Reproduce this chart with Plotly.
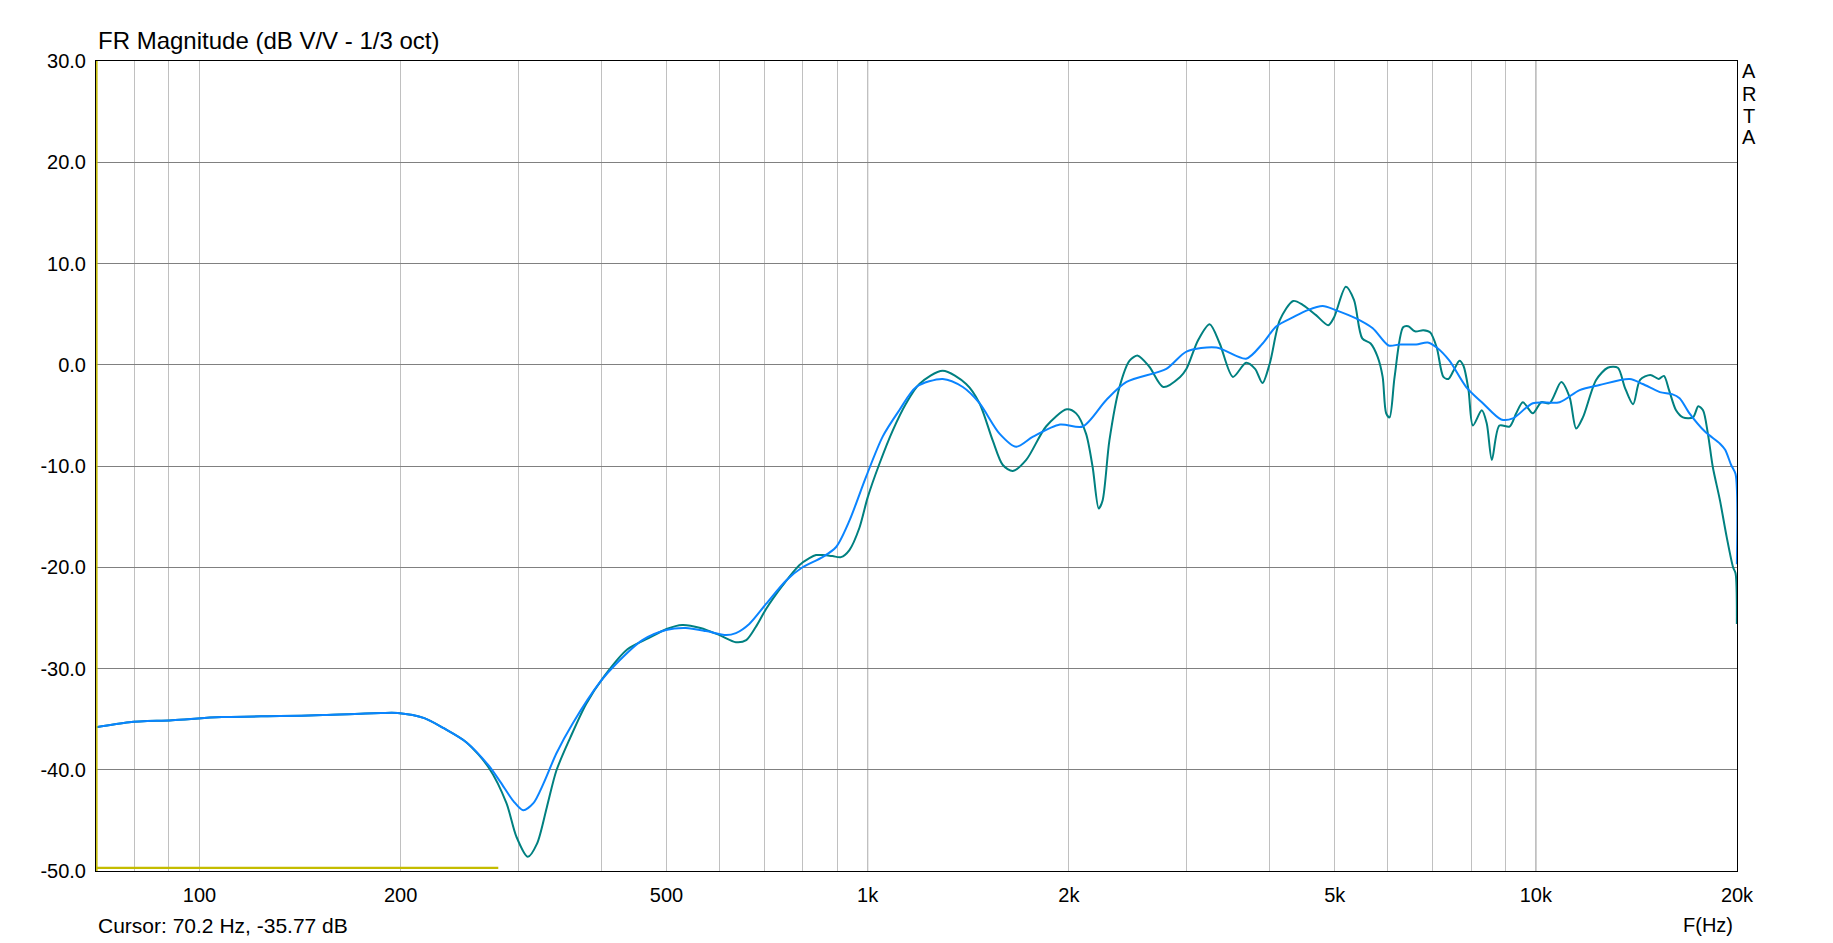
import math
import plotly.graph_objects as go

# ---------------- data ----------------
# smoothed response (blue)
blue_freq = [70, 78.5, 91, 108, 132, 153, 187, 198, 217, 232, 251, 271, 282, 295, 305,
             316, 327, 342, 362, 398, 418, 460, 499, 534, 573, 614, 635, 665, 705, 755, 799,
             856, 897, 939, 994, 1053, 1115, 1182, 1295, 1388, 1470, 1575, 1668, 1768, 1940,
             2098, 2274, 2440, 2799, 3000, 3326, 3684, 3900, 4090, 4334, 4557, 4797, 5015,
             5371, 5700, 6020, 6248, 6620, 6890, 7106, 7424, 7866, 8332, 8874, 9238, 9897,
             10853, 11628, 12455, 13813, 14457, 15331, 15986, 16410, 16980, 17908, 18863,
             19200, 19600, 19900, 19990]
blue_db = [-35.8, -35.3, -35.1, -34.8, -34.7, -34.6, -34.4, -34.4, -34.9, -35.9, -37.3,
           -39.6, -41.2, -43.1, -44.0, -43.3, -41.4, -38.4, -35.4, -31.3, -29.7, -27.2,
           -26.2, -26.0, -26.3, -26.7, -26.5, -25.6, -23.6, -21.3, -20.0, -19.0, -18.0, -15.4,
           -11.1, -7.1, -4.5, -2.2, -1.4, -2.2, -3.8, -6.8, -8.1, -7.1, -5.9, -6.1, -3.5, -1.7,
           -0.4, 1.3, 1.7, 0.6, 2.1, 3.8, 4.7, 5.4, 5.8, 5.4, 4.6, 3.6, 1.9, 2.0, 2.0, 2.2, 1.7,
           0.4, -2.2, -3.8, -5.4, -5.3, -3.8, -3.7, -2.5, -2.0, -1.4, -1.9, -2.7, -2.9, -3.3,
           -4.8, -6.6, -7.8, -8.4, -9.9, -10.8, -19.7]

# less smoothed response (teal)
teal_freq = [70, 78.5, 91, 108, 132, 153, 187, 198, 217, 232, 251, 271, 288, 298, 310,
             320, 331, 342, 359, 379, 403, 437, 470, 500, 528, 562, 600, 635, 658, 680, 705,
             746, 790, 818, 837, 856, 886, 912, 939, 972, 1000, 1041, 1090, 1142, 1195, 1295,
             1404, 1470, 1539, 1593, 1649, 1727, 1849, 1986, 2051, 2122, 2171, 2217, 2247, 2300,
             2382, 2466, 2537, 2640, 2769, 2935, 3000, 3121, 3249, 3364, 3521, 3684, 3800, 3898,
             4000, 4138, 4334, 4483, 4688, 4890, 4990, 5195, 5343, 5497, 5659, 5795, 5898, 5970,
             6040, 6146, 6329, 6441, 6592, 6785, 6945, 7106, 7272, 7399, 7528, 7685, 7792, 7929,
             8049, 8300, 8443, 8593, 8820, 9133, 9346, 9562, 9897, 10188, 10484, 10916, 11233,
             11490, 11760, 12308, 12810, 13264, 13581, 13981, 14321, 14835, 15270, 15547, 15825,
             16210, 16600, 17185, 17500, 17790, 18090, 18400, 18860, 19300, 19730, 19900, 19990]
teal_db = [-35.8, -35.3, -35.1, -34.8, -34.7, -34.6, -34.4, -34.4, -34.9, -35.9, -37.3,
           -39.8, -43.3, -46.6, -48.6, -47.3, -43.7, -40.1, -36.8, -33.5, -30.8, -28.1,
           -27.0, -26.1, -25.7, -26.0, -26.7, -27.4, -27.2, -25.9, -24.1, -21.8, -19.8, -19.1,
           -18.8, -18.8, -18.9, -19.0, -18.3, -16.1, -13.1, -9.8, -6.5, -3.8, -1.9, -0.6, -1.9,
           -3.8, -7.5, -9.9, -10.5, -9.4, -6.1, -4.4, -4.8, -6.8, -10.1, -14.2, -13.4, -7.5,
           -2.2, 0.4, 0.9, -0.2, -2.2, -1.2, -0.4, 2.4, 4.0, 2.1, -1.2, 0.2, -0.4, -1.8, 0.2,
           4.4, 6.3, 5.9, 4.9, 3.9, 4.7, 7.7, 6.4, 2.6, 2.1, 0.8, -1.2, -4.8, -5.2, -1.2, 3.7,
           3.8, 3.3, 3.4, 3.2, 1.7, -1.2, -1.4, -0.6, 0.4, -0.1, -2.5, -6.0, -4.5, -5.8, -9.4,
           -6.0, -6.1, -4.8, -3.7, -4.8, -3.7, -3.8, -1.7, -3.2, -6.3, -5.2, -1.5, -0.3, -0.3,
           -2.2, -3.9, -1.5, -1.0, -1.4, -1.1, -2.5, -4.5, -5.2, -5.2, -4.1, -4.5, -6.8, -10.1,
           -13.4, -17.0, -20.0, -20.6, -25.6]

# third (yellow) trace near the bottom
yellow_freq = [70, 280]
yellow_db = [-49.7, -49.7]

cursor_freq = 70.2

x_tick_vals = [100, 200, 500, 1000, 2000, 5000, 10000, 20000]
x_tick_text = ["100", "200", "500", "1k", "2k", "5k", "10k", "20k"]
x_minor_vals = [80, 90, 300, 400, 600, 700, 800, 900, 3000, 4000, 6000, 7000, 8000, 9000]
x_decade_vals = [100, 1000, 10000]
y_tick_vals = [30, 20, 10, 0, -10, -20, -30, -40, -50]

FONT = "Liberation Sans, Arial, sans-serif"

fig = go.Figure()
fig.add_trace(go.Scatter(x=yellow_freq, y=yellow_db, mode="lines",
                         line=dict(color="#C4BC00", width=2.2), hoverinfo="skip"))
fig.add_trace(go.Scatter(x=teal_freq, y=teal_db, mode="lines",
                         line=dict(color="#008080", width=2, shape="spline", smoothing=0.8)))
fig.add_trace(go.Scatter(x=blue_freq, y=blue_db, mode="lines",
                         line=dict(color="#0A84FF", width=2, shape="spline", smoothing=0.8)))

# decade grid lines (darker)
for f in x_decade_vals:
    fig.add_shape(type="line", xref="x", yref="paper", x0=f, x1=f, y0=0, y1=1,
                  line=dict(color="#808080", width=1), layer="below")
# cursor line
fig.add_shape(type="line", xref="x", yref="paper", x0=cursor_freq, x1=cursor_freq, y0=0, y1=1,
              line=dict(color="#C4BC00", width=1.5), layer="above")

fig.update_xaxes(
    type="log",
    range=[math.log10(70.0), math.log10(20000)],
    tickmode="array", tickvals=x_tick_vals, ticktext=x_tick_text,
    showgrid=True, gridcolor="#C0C0C0", gridwidth=1,
    minor=dict(tickmode="array", tickvals=x_minor_vals, showgrid=True,
               gridcolor="#C0C0C0", gridwidth=1, ticks=""),
    ticks="", ticklabelstandoff=6,
    showline=True, linecolor="black", linewidth=1, mirror=True,
    zeroline=False,
    tickfont=dict(family=FONT, size=20, color="black"),
)
fig.update_yaxes(
    range=[-50, 30],
    tickmode="array", tickvals=y_tick_vals, ticktext=[f"{v:.1f}" for v in y_tick_vals],
    showgrid=True, gridcolor="#808080", gridwidth=1,
    ticks="", ticklabelstandoff=5,
    showline=True, linecolor="black", linewidth=1, mirror=True,
    zeroline=False,
    tickfont=dict(family=FONT, size=20, color="black"),
)

ann = []
ann.append(dict(text="FR Magnitude (dB V/V - 1/3 oct)", x=0.0, y=1.0247, xref="paper", yref="paper",
                xanchor="left", yanchor="middle", showarrow=False,
                font=dict(family=FONT, size=24, color="black")))
ann.append(dict(text="Cursor: 70.2 Hz, -35.77 dB", x=0.0, y=-0.0667, xref="paper", yref="paper",
                xanchor="left", yanchor="middle", showarrow=False,
                font=dict(family=FONT, size=21, color="black")))
ann.append(dict(text="F(Hz)", x=0.9988, y=-0.0667, xref="paper", yref="paper",
                xanchor="right", yanchor="middle", showarrow=False,
                font=dict(family=FONT, size=20, color="black")))
for letter, yy in zip("ARTA", [0.9874, 0.959, 0.9327, 0.906]):
    ann.append(dict(text=letter, x=1.0073, y=yy, xref="paper", yref="paper",
                    xanchor="center", yanchor="middle", showarrow=False,
                    font=dict(family=FONT, size=20, color="black")))

# page body adds an 8px offset; compensate so the plot area lands where the reference has it
fig.update_layout(
    width=1825, height=935,
    margin=dict(l=88, r=96, t=53, b=72),
    paper_bgcolor="white", plot_bgcolor="white",
    showlegend=False,
    annotations=ann,
)

fig.write_html("out.html")
